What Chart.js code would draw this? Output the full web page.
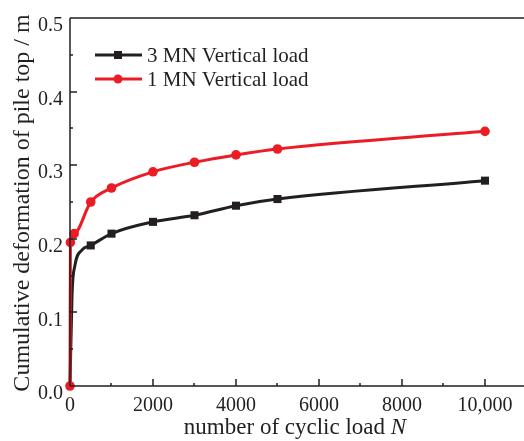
<!DOCTYPE html>
<html>
<head>
<meta charset="utf-8">
<script src="https://cdn.jsdelivr.net/npm/chart.js@4.4.0/dist/chart.umd.min.js"></script>
<style>
  html, body { margin: 0; padding: 0; background: #fff; }
  #wrap { width: 524px; height: 441px; position: relative; }
</style>
</head>
<body>
<div id="wrap"><canvas id="pile-chart"></canvas></div>
<script>
// cycle counts and pile-top deformation (m)
const cycles1MN = [0, 10, 100, 500, 1000, 2000, 3000, 4000, 5000, 10000];
const deform1MN = [0, 0.195, 0.207, 0.250, 0.269, 0.291, 0.304, 0.314, 0.322, 0.346];

const cycles3MN = [0, 50, 120, 290, 500, 1000, 2000, 3000, 4000, 5000, 10000];
const deform3MN = [0, 0.125, 0.164, 0.185, 0.191, 0.207, 0.223, 0.232, 0.245, 0.254, 0.279];
// only the measured points get a marker, the rest just shape the curve
const marked3MN = [false, false, false, false, true, true, true, true, true, true, true];

const xTickValues = [0, 2000, 4000, 6000, 8000, 10000];
const xTickLabels = ['0', '2000', '4000', '6000', '8000', '10,000'];
const yTickLabels = ['0.0', '0.1', '0.2', '0.3', '0.4', '0.5'];

const RED = '#ec1c24';
const BLACK = '#231f20';
const SERIF = "'Liberation Serif', 'Times New Roman', serif";

function toPoints(xs, ys) {
  return xs.map((x, i) => ({ x: x, y: ys[i] }));
}

// axes, inward ticks, titles and legend
const frame = {
  id: 'frame',
  afterDraw(chart) {
    const ctx = chart.ctx;
    const a = chart.chartArea;
    const xs = chart.scales.x, ys = chart.scales.y;
    ctx.save();
    ctx.strokeStyle = BLACK;
    ctx.lineWidth = 1.5;
    ctx.beginPath();
    ctx.moveTo(a.left, a.top); ctx.lineTo(chart.width, a.top);
    ctx.moveTo(a.left, a.top); ctx.lineTo(a.left, a.bottom);
    ctx.moveTo(a.left, a.bottom); ctx.lineTo(chart.width, a.bottom);
    for (let v = 0; v <= 0.5001; v += 0.05) {
      const y = Math.round(ys.getPixelForValue(v));
      const major = Math.abs(v * 10 - Math.round(v * 10)) < 1e-6;
      ctx.moveTo(a.left, y); ctx.lineTo(a.left + (major ? 7 : 3), y);
    }
    for (let v = 1000; v <= 10000; v += 1000) {
      const x = Math.round(xs.getPixelForValue(v));
      ctx.moveTo(x, a.bottom); ctx.lineTo(x, a.bottom - (v % 2000 === 0 ? 7 : 3));
    }
    ctx.stroke();

    // axis titles
    ctx.fillStyle = BLACK;
    ctx.textBaseline = 'alphabetic';
    const plain = 'number of cyclic load ';
    ctx.font = 'italic 23px ' + SERIF;
    const wN = ctx.measureText('N').width;
    ctx.font = '23px ' + SERIF;
    const wPlain = ctx.measureText(plain).width;
    const x0 = 295 - (wPlain + wN) / 2;
    ctx.textAlign = 'left';
    ctx.fillText(plain, x0, 434);
    ctx.font = 'italic 23px ' + SERIF;
    ctx.fillText('N', x0 + wPlain, 434);

    ctx.save();
    ctx.translate(29, 203);
    ctx.rotate(-Math.PI / 2);
    ctx.font = '24px ' + SERIF;
    ctx.textAlign = 'center';
    ctx.fillText('Cumulative deformation of pile top / m', 0, 0);
    ctx.restore();

    // legend
    const entries = [
      { label: chart.data.datasets[0].label, color: BLACK, square: true, y: 55 },
      { label: chart.data.datasets[1].label, color: RED, square: false, y: 79 }
    ];
    ctx.font = '21px ' + SERIF;
    ctx.textAlign = 'left';
    ctx.textBaseline = 'middle';
    entries.forEach(e => {
      ctx.strokeStyle = e.color;
      ctx.fillStyle = e.color;
      ctx.lineWidth = 3;
      ctx.beginPath();
      ctx.moveTo(95, e.y); ctx.lineTo(142, e.y);
      ctx.stroke();
      if (e.square) {
        ctx.fillRect(114, e.y - 4, 8, 8);
      } else {
        ctx.beginPath();
        ctx.arc(118, e.y, 4.5, 0, Math.PI * 2);
        ctx.fill();
      }
      ctx.fillStyle = BLACK;
      ctx.fillText(e.label, 147, e.y + 1);
    });
    ctx.restore();
  }
};

const ctx = document.getElementById('pile-chart').getContext('2d');
new Chart(ctx, {
  type: 'line',
  data: {
    datasets: [
      {
        label: '3 MN Vertical load',
        data: toPoints(cycles3MN, deform3MN),
        borderColor: BLACK,
        backgroundColor: BLACK,
        borderWidth: 3,
        pointStyle: 'rect',
        pointRadius: marked3MN.map(m => m ? 5.7 : 0),
        pointBorderWidth: 0,
        cubicInterpolationMode: 'monotone',
        clip: false,
        order: 2
      },
      {
        label: '1 MN Vertical load',
        data: toPoints(cycles1MN, deform1MN),
        borderColor: RED,
        backgroundColor: RED,
        borderWidth: 3,
        pointStyle: 'circle',
        pointRadius: 4.8,
        pointBorderWidth: 0,
        cubicInterpolationMode: 'monotone',
        clip: false,
        order: 1
      }
    ]
  },
  options: {
    responsive: true,
    maintainAspectRatio: false,
    animation: false,
    events: [],
    layout: { autoPadding: false, padding: { top: 18, right: 0, bottom: 0, left: 0 } },
    plugins: { legend: { display: false }, tooltip: { enabled: false } },
    scales: {
      x: {
        type: 'linear',
        min: 0,
        max: 10940,
        grid: { display: false, drawTicks: false },
        border: { display: false },
        afterBuildTicks: s => { s.ticks = xTickValues.map(v => ({ value: v })); },
        afterFit: s => { s.height = 55; s.paddingLeft = 0; s.paddingRight = 0; },
        ticks: {
          color: BLACK,
          padding: 8,
          maxRotation: 0,
          font: { family: SERIF, size: 20 },
          callback: v => xTickLabels[xTickValues.indexOf(v)]
        }
      },
      y: {
        min: 0,
        max: 0.5,
        grid: { display: false, drawTicks: false },
        border: { display: false },
        afterFit: s => { s.width = 70; s.paddingTop = 0; s.paddingBottom = 0; },
        ticks: {
          stepSize: 0.1,
          color: BLACK,
          padding: 7,
          labelOffset: 8,
          font: { family: SERIF, size: 20 },
          callback: (v, i) => yTickLabels[i]
        }
      }
    }
  },
  plugins: [frame]
});
</script>
</body>
</html>
